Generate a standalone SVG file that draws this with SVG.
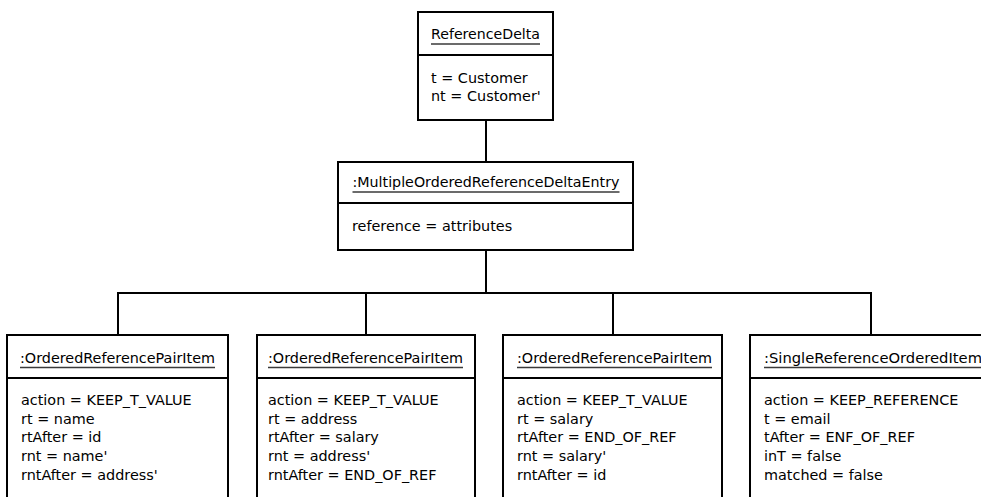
<svg xmlns="http://www.w3.org/2000/svg" width="981" height="497" viewBox="0 0 981 497">
  <style>
    .box { fill: #ffffff; stroke: #000000; stroke-width: 2; }
    .sep { stroke: #000000; stroke-width: 2; }
    .wire { fill: none; stroke: #000000; stroke-width: 2; }
    .ul { stroke: #3a3a3a; stroke-width: 1.3; }
    text { font-family: "DejaVu Sans", "Liberation Sans", sans-serif; font-size: 14.4px; fill: #000000; }
  </style>
  <rect x="0" y="0" width="981" height="497" fill="#ffffff"/>

  <!-- connectors -->
  <g id="connectors">
    <line class="wire" x1="486" y1="120" x2="486" y2="162"/>
    <line class="wire" x1="486" y1="250" x2="486" y2="293"/>
    <line class="wire" x1="117" y1="293" x2="872" y2="293"/>
    <line class="wire" x1="118" y1="292" x2="118" y2="335"/>
    <line class="wire" x1="366" y1="292" x2="366" y2="335"/>
    <line class="wire" x1="613" y1="292" x2="613" y2="335"/>
    <line class="wire" x1="871" y1="292" x2="871" y2="335"/>
  </g>

  <!-- root object -->
  <g id="referenceDelta">
    <rect class="box" x="418" y="12" width="135" height="108"/>
    <line class="sep" x1="418" y1="55" x2="553" y2="55"/>
    <text x="431" y="39" textLength="109" lengthAdjust="spacingAndGlyphs">ReferenceDelta</text>
    <line class="ul" x1="431" y1="44" x2="540" y2="44"/>
    <text x="431" y="83">t = Customer</text>
    <text x="431" y="101">nt = Customer'</text>
  </g>

  <g id="multipleEntry">
    <rect class="box" x="338" y="162" width="295" height="88"/>
    <line class="sep" x1="338" y1="203" x2="633" y2="203"/>
    <text x="352.5" y="187" textLength="267" lengthAdjust="spacingAndGlyphs">:MultipleOrderedReferenceDeltaEntry</text>
    <line class="ul" x1="352.5" y1="192" x2="619.5" y2="192"/>
    <text x="352" y="231">reference = attributes</text>
  </g>

  <!-- item objects (extend below the visible area) -->
  <g id="item1">
    <rect class="box" x="7" y="335" width="221" height="200"/>
    <line class="sep" x1="7" y1="378" x2="228" y2="378"/>
    <text x="20" y="363" textLength="195" lengthAdjust="spacingAndGlyphs">:OrderedReferencePairItem</text>
    <line class="ul" x1="20" y1="367.5" x2="215" y2="367.5"/>
    <text x="21" y="405">action = KEEP_T_VALUE</text>
    <text x="21" y="423.7">rt = name</text>
    <text x="21" y="442.4">rtAfter = id</text>
    <text x="21" y="461.1">rnt = name'</text>
    <text x="21" y="479.8">rntAfter = address'</text>
  </g>

  <g id="item2">
    <rect class="box" x="257" y="335" width="218" height="200"/>
    <line class="sep" x1="257" y1="378" x2="475" y2="378"/>
    <text x="268" y="363" textLength="195" lengthAdjust="spacingAndGlyphs">:OrderedReferencePairItem</text>
    <line class="ul" x1="268" y1="367.5" x2="463" y2="367.5"/>
    <text x="268" y="405">action = KEEP_T_VALUE</text>
    <text x="268" y="423.7">rt = address</text>
    <text x="268" y="442.4">rtAfter = salary</text>
    <text x="268" y="461.1">rnt = address'</text>
    <text x="268" y="479.8">rntAfter = END_OF_REF</text>
  </g>

  <g id="item3">
    <rect class="box" x="503" y="335" width="219" height="200"/>
    <line class="sep" x1="503" y1="378" x2="722" y2="378"/>
    <text x="517" y="363" textLength="195" lengthAdjust="spacingAndGlyphs">:OrderedReferencePairItem</text>
    <line class="ul" x1="517" y1="367.5" x2="712" y2="367.5"/>
    <text x="517" y="405">action = KEEP_T_VALUE</text>
    <text x="517" y="423.7">rt = salary</text>
    <text x="517" y="442.4">rtAfter = END_OF_REF</text>
    <text x="517" y="461.1">rnt = salary'</text>
    <text x="517" y="479.8">rntAfter = id</text>
  </g>

  <g id="item4">
    <rect class="box" x="750" y="335" width="260" height="200"/>
    <line class="sep" x1="750" y1="378" x2="1010" y2="378"/>
    <text x="764" y="363" textLength="218" lengthAdjust="spacingAndGlyphs">:SingleReferenceOrderedItem</text>
    <line class="ul" x1="764" y1="367.5" x2="982" y2="367.5"/>
    <text x="764" y="405">action = KEEP_REFERENCE</text>
    <text x="764" y="423.7">t = email</text>
    <text x="764" y="442.4">tAfter = ENF_OF_REF</text>
    <text x="764" y="461.1">inT = false</text>
    <text x="764" y="479.8">matched = false</text>
  </g>
</svg>
